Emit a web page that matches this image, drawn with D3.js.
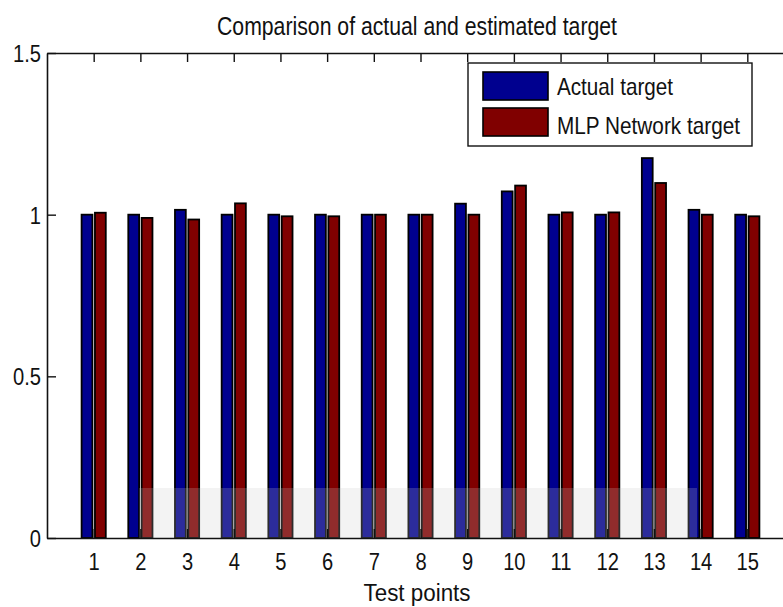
<!DOCTYPE html>
<html>
<head>
<meta charset="utf-8">
<script src="https://cdn.jsdelivr.net/npm/d3@7/dist/d3.min.js"></script>
<style>
  html, body { margin: 0; padding: 0; background: #fff; }
  svg { display: block; }
  text { font-family: "Liberation Sans", Arial, sans-serif; fill: #111; }
</style>
</head>
<body>
<div id="chart"></div>
<script>
// ---- data ----
const categories = ["1","2","3","4","5","6","7","8","9","10","11","12","13","14","15"];
const actualTarget = [1.000, 1.000, 1.015, 1.000, 1.000, 1.000, 1.000, 1.000, 1.034, 1.072, 1.000, 1.000, 1.175, 1.015, 1.000];
const mlpTarget    = [1.006, 0.990, 0.985, 1.035, 0.995, 0.995, 1.000, 1.000, 1.000, 1.090, 1.007, 1.007, 1.098, 1.000, 0.995];
const seriesNames = ["Actual target", "MLP Network target"];
const seriesColors = ["#00008F", "#800000"];
const yTickValues = [0, 0.5, 1, 1.5];
const yTickLabels = ["0", "0.5", "1", "1.5"];
const titleText = "Comparison of actual and estimated target";
const xLabelText = "Test points";

const W = 783, H = 607;
const svg = d3.select("#chart").append("svg").attr("width", W).attr("height", H);

const x = d3.scaleLinear().domain([0, 16]).range([47, 794]);
const y = d3.scaleLinear().domain([0, 1.5]).range([538, 53]);

const off = 0.143, bw = 0.232;
const series = [actualTarget, mlpTarget];

// bars
series.forEach((vals, si) => {
  svg.append("g").selectAll("rect").data(vals).join("rect")
    .attr("x", (d, i) => x(i + 1 + (si === 0 ? -off : off) - bw / 2))
    .attr("width", x(bw) - x(0))
    .attr("y", d => y(d))
    .attr("height", d => y(0) - y(d))
    .attr("fill", seriesColors[si])
    .attr("stroke", "#000")
    .attr("stroke-width", 1.8);
});

// watermark-like translucent band
svg.append("rect").attr("x", 139).attr("y", 488).attr("width", 558).attr("height", 50)
  .attr("fill", "#c8c8c8").attr("opacity", 0.22);

const tl = 9;
const xt = d3.range(1, 16);
// axes
const gB = svg.append("g").attr("transform", `translate(0,${y(0)})`)
  .call(d3.axisBottom(x).tickValues(xt).tickSizeInner(-tl).tickSizeOuter(0).tickFormat((d, i) => categories[i]).tickPadding(0));
const gT = svg.append("g").attr("transform", `translate(0,${y(1.5)})`)
  .call(d3.axisTop(x).tickValues(xt).tickSizeInner(-tl).tickSizeOuter(0).tickFormat(""));
const gL = svg.append("g").attr("transform", `translate(${x(0)},0)`)
  .call(d3.axisLeft(y).tickValues(yTickValues).tickSizeInner(-tl).tickSizeOuter(0).tickFormat((d, i) => yTickLabels[i]));
const gR = svg.append("g").attr("transform", `translate(${x(16)},0)`)
  .call(d3.axisRight(y).tickValues(yTickValues).tickSizeInner(-tl).tickSizeOuter(0).tickFormat(""));

[gB, gT, gL, gR].forEach(g => {
  g.select(".domain").attr("stroke", "#111").attr("stroke-width", 1.6);
  g.selectAll(".tick line").attr("stroke", "#111").attr("stroke-width", 1.4);
});

const sx = 0.84;
gB.selectAll(".tick text")
  .attr("font-size", 24).attr("font-family", "Liberation Sans, Arial, sans-serif")
  .attr("fill", "#111").attr("dy", null).attr("y", 32)
  .attr("transform", `scale(${sx},1)`);
gL.selectAll(".tick text")
  .attr("font-size", 24).attr("font-family", "Liberation Sans, Arial, sans-serif")
  .attr("fill", "#111").attr("dy", "0.35em").attr("x", -6 / sx)
  .attr("transform", `scale(${sx},1)`);

// title
svg.append("text").attr("x", 417).attr("y", 35).attr("text-anchor", "middle")
  .attr("font-size", 25).attr("textLength", 400).attr("lengthAdjust", "spacingAndGlyphs")
  .text(titleText);

// x label
svg.append("text").attr("x", 417).attr("y", 601).attr("text-anchor", "middle")
  .attr("font-size", 23).attr("textLength", 107).attr("lengthAdjust", "spacingAndGlyphs")
  .text(xLabelText);

// legend
const lg = svg.append("g");
lg.append("rect").attr("x", 468).attr("y", 63).attr("width", 284).attr("height", 83)
  .attr("fill", "#fff").attr("stroke", "#111").attr("stroke-width", 1.4);
const legendLens = [116, 183];
seriesNames.forEach((nm, i) => {
  lg.append("rect").attr("x", 483).attr("y", 72 + i * 36).attr("width", 65).attr("height", 28)
    .attr("fill", seriesColors[i]).attr("stroke", "#000").attr("stroke-width", 1.6);
  lg.append("text").attr("x", 557).attr("y", 95 + i * 39).attr("font-size", 24)
    .attr("textLength", legendLens[i]).attr("lengthAdjust", "spacingAndGlyphs")
    .text(nm);
});
</script>
</body>
</html>
